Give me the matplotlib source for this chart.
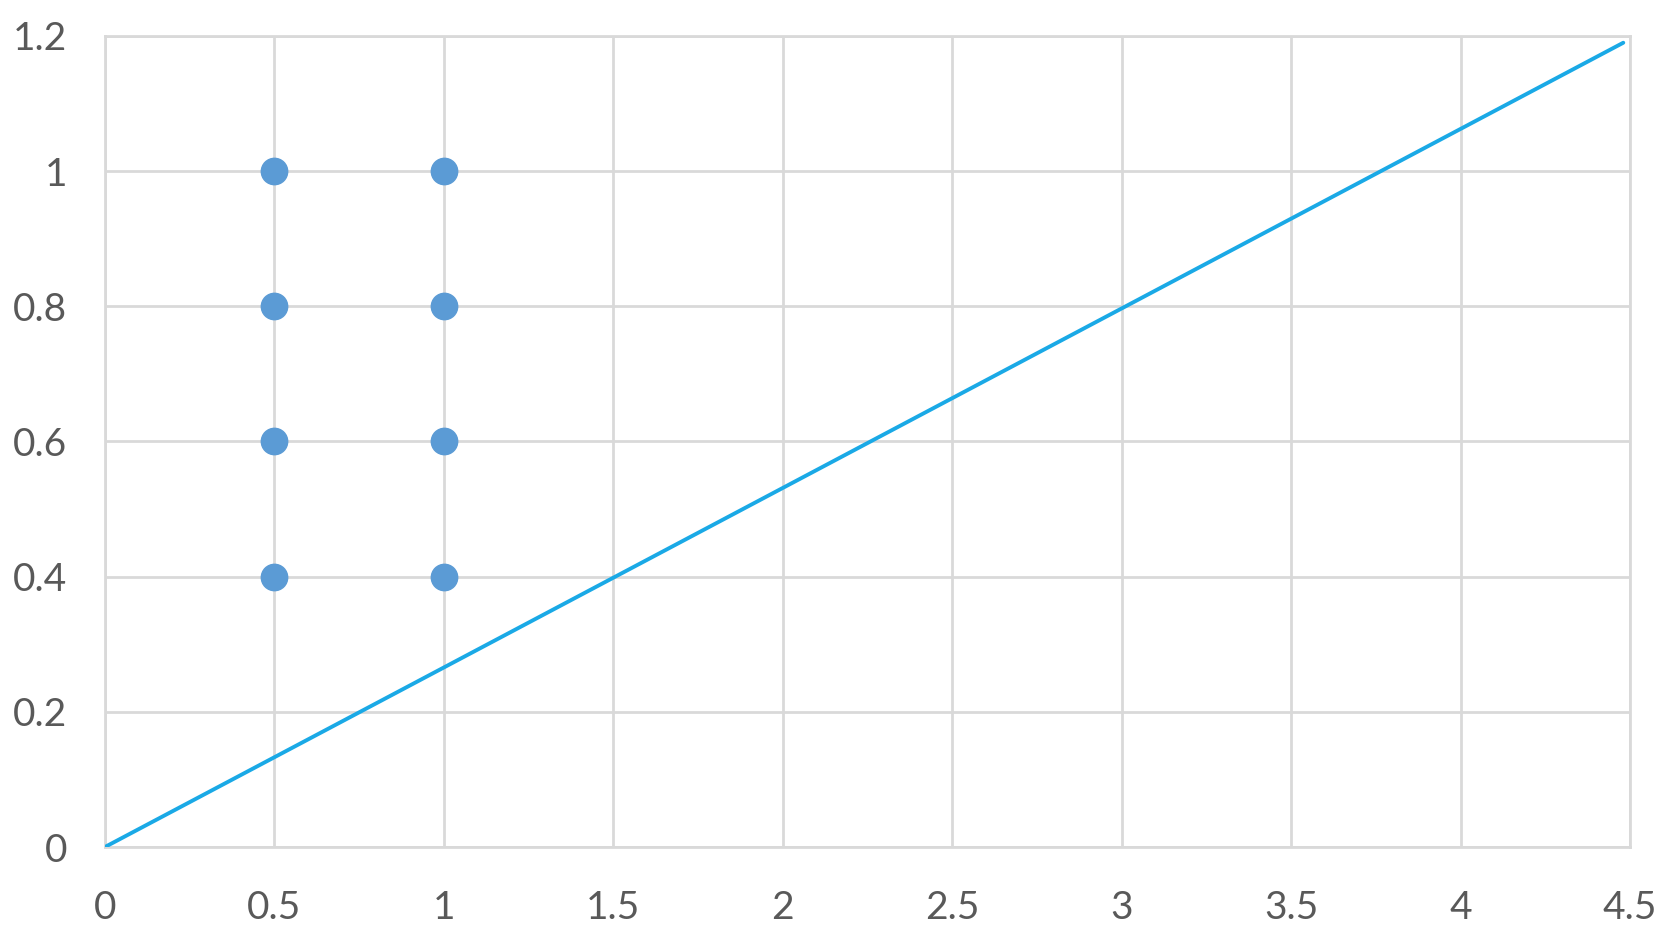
import numpy as np
import matplotlib.pyplot as plt

# scatter points (two columns of dots)
dot_x = [0.5, 0.5, 0.5, 0.5, 1, 1, 1, 1]
dot_y = [0.4, 0.6, 0.8, 1.0, 0.4, 0.6, 0.8, 1.0]

# straight line, start and end points
line_x = [0, 4.48]
line_y = [0, 1.19]

x_ticks = [0, 0.5, 1, 1.5, 2, 2.5, 3, 3.5, 4, 4.5]
x_labels = ['0', '0.5', '1', '1.5', '2', '2.5', '3', '3.5', '4', '4.5']
y_ticks = [0, 0.2, 0.4, 0.6, 0.8, 1, 1.2]
y_labels = ['0', '0.2', '0.4', '0.6', '0.8', '1', '1.2']

plt.rcParams['font.family'] = ['Lato', 'DejaVu Sans']

fig = plt.figure(figsize=(16.71, 9.32), dpi=100)
ax = fig.add_axes([0.0628, 0.0912, 0.9127, 0.8702])

grid_col = '#d9d9d9'
ax.plot(line_x, line_y, color='#1aa9e6', linewidth=2.8, zorder=3, solid_capstyle='round')
ax.plot(dot_x, dot_y, linestyle='none', marker='o', markersize=19,
        color='#5b9bd5', zorder=4)

ax.set_xlim(0, 4.5)
ax.set_ylim(0, 1.2)
ax.set_xticks(x_ticks)
ax.set_xticklabels(x_labels)
ax.set_yticks(y_ticks)
ax.set_yticklabels(y_labels)
ax.grid(True, color=grid_col, linewidth=2)
ax.set_axisbelow(True)
for s in ax.spines.values():
    s.set_color(grid_col)
    s.set_linewidth(2)
ax.tick_params(length=0, labelsize=28, labelcolor='#595959')
ax.tick_params(axis='x', pad=31)
ax.tick_params(axis='y', pad=27)

fig.savefig('out.png', dpi=100)
